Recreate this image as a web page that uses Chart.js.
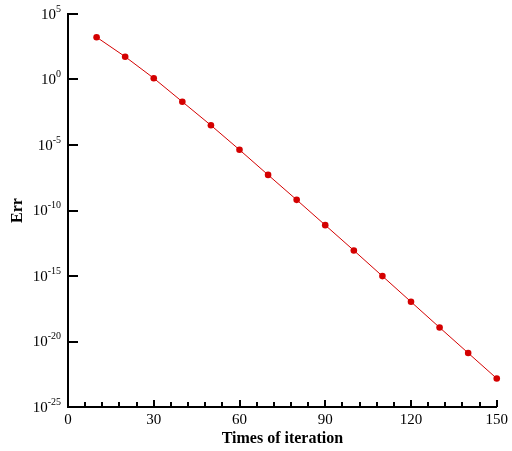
<!DOCTYPE html>
<html>
<head>
<meta charset="utf-8">
<script src="https://cdn.jsdelivr.net/npm/chart.js@4"></script>
<style>
  html, body { margin:0; padding:0; background:#fff; }
  #wrap { width:512px; height:451px; }
</style>
</head>
<body>
<div id="wrap"><canvas id="grafico" width="512" height="451"></canvas></div>
<script>
// dados
const iteracoes = [10, 20, 30, 40, 50, 60, 70, 80, 90, 100, 110, 120, 130, 140, 150];
const erros = [1.7e3, 5.5e1, 1.25e0, 2.0e-2, 3.2e-4, 4.3e-6, 5.2e-8, 6.5e-10, 7.6e-12, 8.9e-14, 9.8e-16, 1.07e-17, 1.17e-19, 1.32e-21, 1.5e-23];
const expoentesY = [5, 0, -5, -10, -15, -20, -25];
const ticksX = [0, 6, 12, 18, 24, 30, 36, 42, 48, 54, 60, 66, 72, 78, 84, 90, 96, 102, 108, 114, 120, 126, 132, 138, 144, 150];
const rotulosX = [0, 30, 60, 90, 120, 150];

const fonte = "'Liberation Serif', 'DejaVu Serif', serif";

// ticks para dentro + rotulos 10^n com expoente
const eixosPlugin = {
  id: "eixos",
  afterDraw(chart){
    const ctx = chart.ctx;
    const sx = chart.scales.x, sy = chart.scales.y;
    const area = chart.chartArea;
    ctx.save();
    ctx.strokeStyle = "#000";
    ctx.lineWidth = 2;
    ctx.beginPath();
    expoentesY.forEach(e => {
      const py = Math.round(sy.getPixelForValue(Math.pow(10, e)));
      ctx.moveTo(area.left, py); ctx.lineTo(area.left + 10, py);
    });
    ticksX.forEach(v => {
      const px = Math.round(sx.getPixelForValue(v));
      const len = rotulosX.includes(v) ? 7 : 5;
      ctx.moveTo(px, area.bottom); ctx.lineTo(px, area.bottom - len);
    });
    ctx.stroke();

    ctx.fillStyle = "#000";
    ctx.textBaseline = "middle";
    ctx.textAlign = "left";
    expoentesY.forEach(e => {
      const py = sy.getPixelForValue(Math.pow(10, e));
      ctx.font = `10px ${fonte}`;
      const exp = String(e);
      const we = ctx.measureText(exp).width;
      ctx.font = `15px ${fonte}`;
      const wb = ctx.measureText("10").width;
      const direita = area.left - 7;
      ctx.fillText("10", direita - we - wb, py + 1);
      ctx.font = `10px ${fonte}`;
      ctx.fillText(exp, direita - we, py - 5);
    });
    ctx.restore();
  }
};

new Chart(document.getElementById("grafico"), {
  type: "line",
  data: {
    datasets: [{
      data: iteracoes.map((v, i) => ({ x: v, y: erros[i] })),
      borderColor: "#d40000",
      backgroundColor: "#d40000",
      borderWidth: 1,
      pointRadius: 3.3,
      pointBorderWidth: 0,
      pointHoverRadius: 3.3,
      clip: false,
      tension: 0
    }]
  },
  options: {
    responsive: false,
    animation: false,
    events: [],
    layout: { padding: { top: 14, right: 13, left: 0, bottom: 0 } },
    plugins: { legend: { display: false }, tooltip: { enabled: false } },
    scales: {
      x: {
        type: "linear",
        min: 0, max: 150,
        afterBuildTicks: s => { s.ticks = ticksX.map(v => ({ value: v })); },
        afterFit: s => { s.height = 44; },
        grid: { display: false, drawTicks: false },
        border: { display: true, color: "#000", width: 2 },
        ticks: {
          autoSkip: false, maxRotation: 0, padding: 4, color: "#000",
          font: { family: fonte, size: 15 },
          callback: v => rotulosX.includes(v) ? String(v) : ""
        },
        title: {
          display: true, text: "Times of iteration", color: "#000",
          font: { family: fonte, size: 16, weight: "bold" },
          padding: { top: 0, bottom: 3 }
        }
      },
      y: {
        type: "logarithmic",
        min: 1e-25, max: 1e5,
        afterBuildTicks: s => { s.ticks = expoentesY.map(e => ({ value: Math.pow(10, e) })); },
        afterFit: s => { s.width = 68; },
        grid: { display: false, drawTicks: false },
        border: { display: true, color: "#000", width: 2 },
        ticks: { display: false },
        title: {
          display: true, text: "Err", color: "#000",
          font: { family: fonte, size: 16, weight: "bold" },
          padding: { top: 8, bottom: 0 }
        }
      }
    }
  },
  plugins: [eixosPlugin]
});
</script>
</body>
</html>
